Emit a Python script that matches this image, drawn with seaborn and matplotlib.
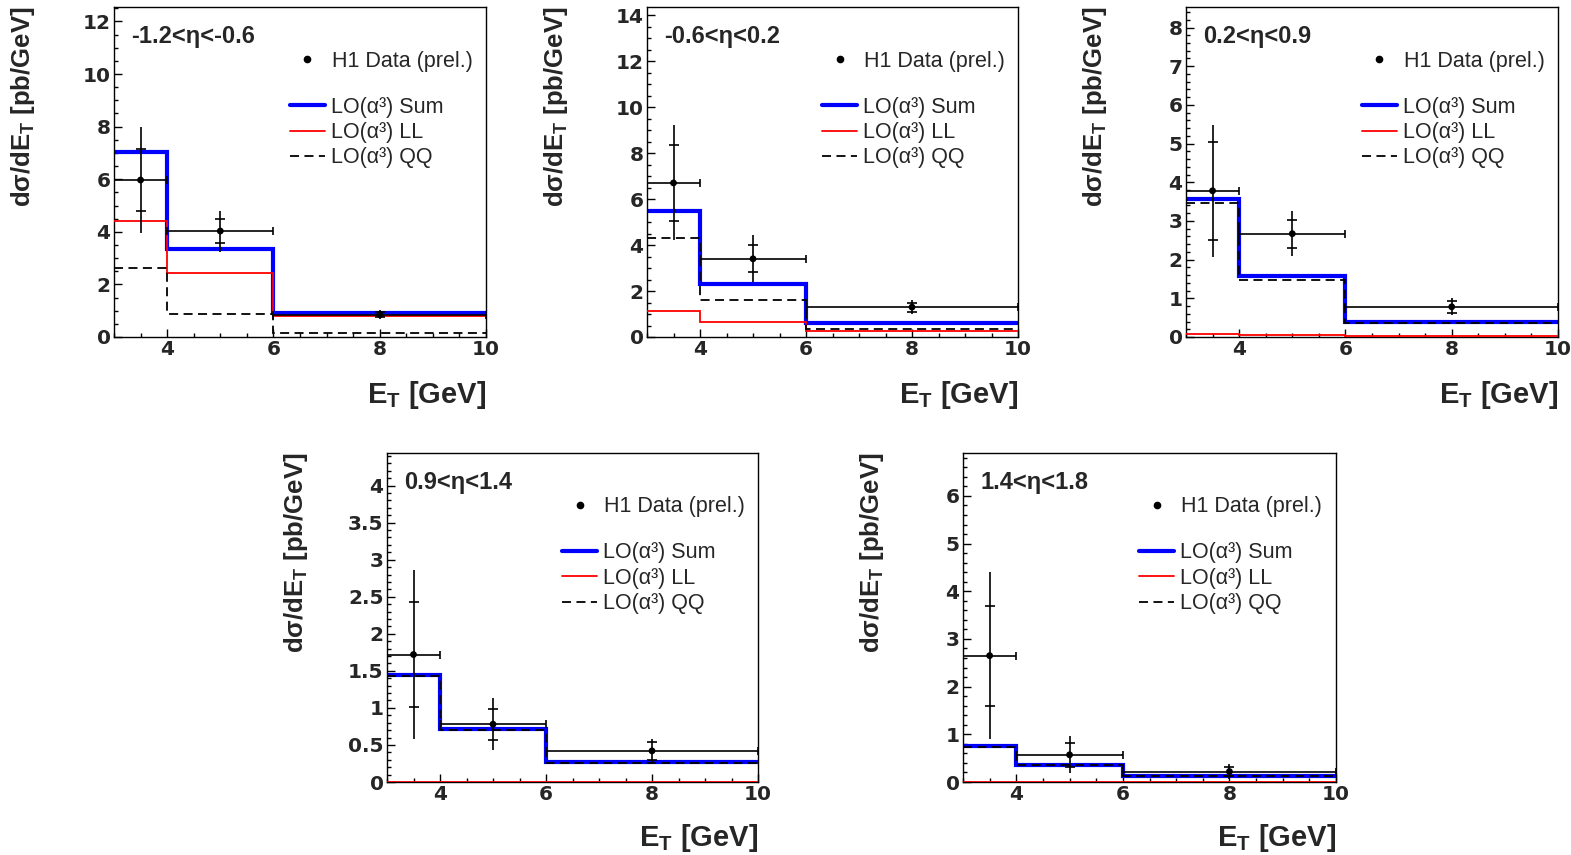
import numpy as np
import pandas as pd
import matplotlib
matplotlib.use("Agg")
import matplotlib.pyplot as plt
import seaborn as sns
from matplotlib.lines import Line2D
from matplotlib.ticker import MultipleLocator

# ---------------- data ----------------
bin_edges = [3, 4, 6, 10]
bin_centres = [3.5, 5, 8]
bin_halfwidth = [0.5, 1, 2]

eta_labels = ["-1.2<η<-0.6", "-0.6<η<0.2", "0.2<η<0.9", "0.9<η<1.4", "1.4<η<1.8"]

data_y = [[5.97, 4.03, 0.85],
          [6.70, 3.40, 1.30],
          [3.78, 2.67, 0.78],
          [1.72, 0.78, 0.42],
          [2.65, 0.57, 0.22]]
data_stat = [[1.17, 0.45, 0.10],
             [1.67, 0.59, 0.20],
             [1.27, 0.36, 0.15],
             [0.71, 0.21, 0.12],
             [1.05, 0.25, 0.10]]
data_tot = [[2.00, 0.78, 0.17],
            [2.50, 1.03, 0.30],
            [1.71, 0.58, 0.22],
            [1.14, 0.35, 0.16],
            [1.75, 0.39, 0.15]]

lo_sum = [[7.03, 3.35, 0.93],
          [5.50, 2.30, 0.62],
          [3.57, 1.57, 0.40],
          [1.45, 0.72, 0.27],
          [0.75, 0.36, 0.13]]
lo_ll = [[4.42, 2.44, 0.79],
         [1.13, 0.66, 0.27],
         [0.09, 0.04, 0.02],
         [0.005, 0.003, 0.002],
         [0.003, 0.002, 0.001]]
lo_qq = [[2.62, 0.87, 0.14],
         [4.30, 1.60, 0.34],
         [3.46, 1.48, 0.35],
         [1.43, 0.70, 0.26],
         [0.74, 0.35, 0.12]]

y_max = [12.55, 14.35, 8.53, 4.44, 6.9]
y_major = [2, 2, 1, 0.5, 1]
y_minor = [0.5, 0.5, 0.2, 0.1, 0.2]

# ---------------- style ----------------
sns.set_theme(style="ticks")
plt.rcParams.update({
    "font.family": ["Liberation Sans", "DejaVu Sans"],
    "font.weight": "bold",
    "mathtext.fontset": "custom",
    "mathtext.rm": "Liberation Sans:bold",
    "mathtext.bf": "Liberation Sans:bold",
    "mathtext.it": "Liberation Sans:bold",
    "axes.edgecolor": "black",
    "axes.linewidth": 1.0,
})

W, H = 1571, 855
fig = plt.figure(figsize=(W / 100, H / 100), dpi=100)

# axes rectangles in pixels: left, top, right, bottom
rects = [(114, 7, 486, 337), (647, 7, 1018, 337), (1186, 7, 1558, 337),
         (387, 453, 758, 782), (963, 453, 1336, 782)]
xlabel_drop = [42, 42, 42, 40, 40]

legend_font = {"family": "Liberation Sans", "weight": "normal", "size": 15.5}

for i, (l, t, r, b) in enumerate(rects):
    ax = fig.add_axes([l / W, 1 - b / H, (r - l) / W, (b - t) / H])
    wpx, hpx = r - l, b - t

    ax.stairs(lo_sum[i], bin_edges, baseline=None, color="#0000ff", lw=3.0, zorder=2)
    ax.stairs(lo_ll[i], bin_edges, baseline=None, color="#ff0000", lw=1.3, zorder=3)
    ax.stairs(lo_qq[i], bin_edges, baseline=None, color="black", lw=1.3,
              linestyle=(0, (5, 3)), zorder=3)

    df = pd.DataFrame({"x": bin_centres, "y": data_y[i], "xe": bin_halfwidth,
                       "stat": data_stat[i], "tot": data_tot[i]})
    ax.errorbar(df["x"], df["y"], xerr=df["xe"], fmt="none", ecolor="black",
                elinewidth=1.2, capsize=2.8, capthick=1.2, zorder=4)
    ax.errorbar(df["x"], df["y"], yerr=df["tot"], fmt="none", ecolor="black",
                elinewidth=1.2, capsize=0, zorder=4)
    ax.plot(df["x"], df["y"] + df["stat"], linestyle="none", marker="_",
            markersize=7, markeredgewidth=1.2, color="black", zorder=4)
    ax.plot(df["x"], df["y"] - df["stat"], linestyle="none", marker="_",
            markersize=7, markeredgewidth=1.2, color="black", zorder=4)
    sns.scatterplot(data=df, x="x", y="y", color="black", s=24, edgecolor="none",
                    zorder=5, ax=ax, legend=False)

    ax.set_xlim(3, 10)
    ax.set_ylim(0, y_max[i])
    ax.xaxis.set_major_locator(MultipleLocator(2))
    ax.xaxis.set_minor_locator(MultipleLocator(0.5))
    ax.yaxis.set_major_locator(MultipleLocator(y_major[i]))
    ax.yaxis.set_minor_locator(MultipleLocator(y_minor[i]))
    ax.yaxis.set_major_formatter(matplotlib.ticker.FuncFormatter(
        lambda v, p: ("%g" % v)))
    ax.tick_params(which="both", direction="in", top=False, right=False,
                   color="black", width=1.0, labelfontfamily="DejaVu Sans",
                   labelsize=14.5, pad=2.5)
    ax.tick_params(which="major", length=6)
    ax.tick_params(which="minor", length=3)

    ax.set_ylabel("dσ/dE$_\\mathrm{T}$ [pb/GeV]", fontsize=18.5, fontweight="bold",
                  loc="top")
    ax.yaxis.set_label_coords(-77 / wpx, 1.0)
    ax.set_xlabel("E$_\\mathrm{T}$ [GeV]", fontsize=21, fontweight="bold", loc="right")
    ax.xaxis.set_label_coords(1.0, -xlabel_drop[i] / hpx)

    ax.text(17 / wpx, 1 - 29 / hpx, eta_labels[i], transform=ax.transAxes,
            fontsize=17, fontweight="bold", va="center", ha="left")

    h_data = [Line2D([], [], marker="o", color="black", linestyle="none", markersize=4.5)]
    leg1 = ax.legend(h_data, ["H1 Data (prel.)"], loc="upper left",
                     bbox_to_anchor=(0.491, 0.868), frameon=False, borderpad=0,
                     borderaxespad=0, handlelength=1.0, handletextpad=0.62,
                     prop=legend_font)
    ax.add_artist(leg1)
    h_lines = [Line2D([], [], color="#0000ff", lw=3.0),
               Line2D([], [], color="#ff0000", lw=1.3),
               Line2D([], [], color="black", lw=1.3, linestyle=(0, (5, 3)))]
    ax.legend(h_lines, ["LO(α³) Sum", "LO(α³) LL", "LO(α³) QQ"], loc="upper left",
              bbox_to_anchor=(0.473, 0.728), frameon=False, borderpad=0,
              borderaxespad=0, handlelength=1.62, handletextpad=0.28,
              labelspacing=0.2, prop=legend_font)

fig.savefig("out.png", dpi=100)
